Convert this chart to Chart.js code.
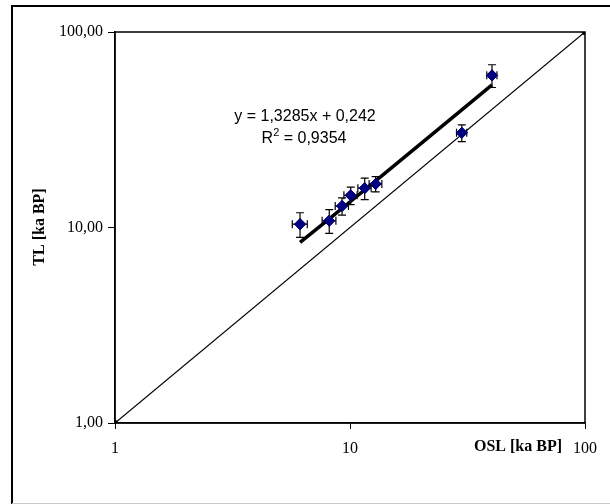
<!DOCTYPE html>
<html>
<head>
<meta charset="utf-8">
<script src="https://cdn.jsdelivr.net/npm/chart.js@4.4.0/dist/chart.umd.min.js"></script>
<style>
  html, body { margin: 0; padding: 0; background: #fff; }
  canvas { display: block; }
</style>
</head>
<body>
<canvas id="chart" width="610" height="504"></canvas>
<script>
// values (ka BP)
const oslAges = [6.13, 8.16, 9.25, 10.07, 11.55, 12.86, 29.9, 40.2];
const tlAges = [10.4, 10.83, 12.88, 14.6, 15.9, 16.7, 30.5, 60.0];
const oslErr = [0.45, 0.55, 0.6, 0.65, 0.75, 0.8, 1.5, 2.0];
const tlErr = [1.5, 1.5, 1.3, 1.5, 2.0, 1.5, 3.0, 8.0];

// trendline as printed on the chart
const slope = 1.3285;
const intercept = 0.242;
const eqText = 'y = 1,3285x + 0,242';
const r2Text = ' = 0,9354';

// 1:1 line
const diagX = [1, 100];
const diagY = [1, 100];

const axisTicks = [1, 10, 100];

const trendX = oslAges.slice().sort((a, b) => a - b);
const trendPoints = trendX.map(x => ({ x: x, y: slope * x + intercept }));

const serif = '"Liberation Serif", "Times New Roman", serif';
const sans = '"Liberation Sans", Arial, sans-serif';

const errorBars = {
    id: 'errorBars',
    afterDatasetsDraw(chart) {
        const ctx = chart.ctx;
        const xs = chart.scales.x;
        const ys = chart.scales.y;
        ctx.save();
        ctx.strokeStyle = '#000';
        ctx.lineWidth = 1.2;
        oslAges.forEach((x, i) => {
            const y = tlAges[i];
            const px = xs.getPixelForValue(x);
            const py = ys.getPixelForValue(y);
            const x0 = xs.getPixelForValue(x - oslErr[i]);
            const x1 = xs.getPixelForValue(x + oslErr[i]);
            const y0 = ys.getPixelForValue(y - tlErr[i]);
            const y1 = ys.getPixelForValue(y + tlErr[i]);
            ctx.beginPath();
            ctx.moveTo(x0, py); ctx.lineTo(x1, py);
            ctx.moveTo(x0, py - 4); ctx.lineTo(x0, py + 4);
            ctx.moveTo(x1, py - 4); ctx.lineTo(x1, py + 4);
            ctx.moveTo(px, y0); ctx.lineTo(px, y1);
            ctx.moveTo(px - 4, y0); ctx.lineTo(px + 4, y0);
            ctx.moveTo(px - 4, y1); ctx.lineTo(px + 4, y1);
            ctx.stroke();
        });
        // redraw markers on top of bars
        const meta = chart.getDatasetMeta(0);
        meta.data.forEach(pt => pt.draw(ctx));
        ctx.restore();
    }
};

const decorations = {
    id: 'decorations',
    beforeDraw(chart) {
        const ctx = chart.ctx;
        ctx.save();
        ctx.fillStyle = '#fff';
        ctx.fillRect(0, 0, chart.width, chart.height);
        // outer frame
        ctx.strokeStyle = '#000';
        ctx.lineWidth = 2;
        ctx.beginPath();
        ctx.moveTo(12, 504);
        ctx.lineTo(12, 6);
        ctx.lineTo(610, 6);
        ctx.stroke();
        ctx.strokeStyle = '#c8c8c8';
        ctx.lineWidth = 1;
        ctx.beginPath();
        ctx.moveTo(12, 503.5);
        ctx.lineTo(610, 503.5);
        ctx.stroke();
        ctx.restore();
    },
    afterDraw(chart) {
        const ctx = chart.ctx;
        const a = chart.chartArea;
        ctx.save();
        ctx.strokeStyle = '#000';
        ctx.lineWidth = 1.5;
        ctx.strokeRect(a.left, a.top, a.right - a.left, a.bottom - a.top);

        ctx.fillStyle = '#000';
        // axis titles
        ctx.font = 'bold 16px ' + serif;
        ctx.textAlign = 'center';
        ctx.textBaseline = 'middle';
        ctx.fillText('OSL [ka BP]', 518, 447);
        ctx.save();
        ctx.translate(40, 227);
        ctx.rotate(-Math.PI / 2);
        ctx.fillText('TL [ka BP]', 0, 0);
        ctx.restore();

        // trendline label
        ctx.font = '16px ' + sans;
        ctx.fillText(eqText, 305, 117);
        const w1 = ctx.measureText('R').width;
        const w2 = ctx.measureText(r2Text).width;
        ctx.font = '11px ' + sans;
        const wsup = ctx.measureText('2').width;
        const start = 304 - (w1 + wsup + w2) / 2;
        ctx.textAlign = 'left';
        ctx.font = '16px ' + sans;
        ctx.fillText('R', start, 139);
        ctx.font = '11px ' + sans;
        ctx.fillText('2', start + w1, 133);
        ctx.font = '16px ' + sans;
        ctx.fillText(r2Text, start + w1 + wsup, 139);
        ctx.restore();
    }
};

new Chart(document.getElementById('chart'), {
    type: 'scatter',
    data: {
        datasets: [{
            label: 'TL vs OSL',
            data: oslAges.map((x, i) => ({ x: x, y: tlAges[i] })),
            pointStyle: 'rectRot',
            pointRadius: 5.5,
            backgroundColor: '#000080',
            borderColor: '#000080',
            borderWidth: 1,
            order: 0
        }, {
            label: 'trend',
            data: trendPoints,
            showLine: true,
            pointRadius: 0,
            borderColor: '#000',
            borderWidth: 3.5,
            order: 1
        }, {
            label: '1:1',
            data: diagX.map((x, i) => ({ x: x, y: diagY[i] })),
            showLine: true,
            pointRadius: 2.5,
            pointStyle: 'circle',
            backgroundColor: '#000',
            borderColor: '#000',
            borderWidth: 1.2,
            order: 2
        }]
    },
    options: {
        responsive: false,
        animation: false,
        layout: { padding: { left: 0, right: 25, top: 32, bottom: 0 } },
        plugins: {
            legend: { display: false },
            tooltip: { enabled: false }
        },
        scales: {
            x: {
                type: 'logarithmic',
                min: 1,
                max: 100,
                afterBuildTicks: s => { s.ticks = axisTicks.map(v => ({ value: v })); },
                afterFit: s => { s.height = 81; },
                ticks: {
                    color: '#000',
                    font: { family: serif, size: 16 },
                    padding: 10,
                    maxRotation: 0,
                    autoSkip: false,
                    callback: v => String(v)
                },
                grid: { drawOnChartArea: false, drawTicks: true, tickLength: 6, color: '#000', lineWidth: 1 },
                border: { color: '#000', width: 1.5 }
            },
            y: {
                type: 'logarithmic',
                min: 1,
                max: 100,
                afterBuildTicks: s => { s.ticks = axisTicks.map(v => ({ value: v })); },
                afterFit: s => { s.width = 115; },
                ticks: {
                    color: '#000',
                    font: { family: serif, size: 16 },
                    padding: 5,
                    autoSkip: false,
                    callback: v => Number(v).toFixed(2).replace('.', ',')
                },
                grid: { drawOnChartArea: false, drawTicks: true, tickLength: 7, color: '#000', lineWidth: 1 },
                border: { color: '#000', width: 1.5 }
            }
        }
    },
    plugins: [decorations, errorBars]
});
</script>
</body>
</html>
